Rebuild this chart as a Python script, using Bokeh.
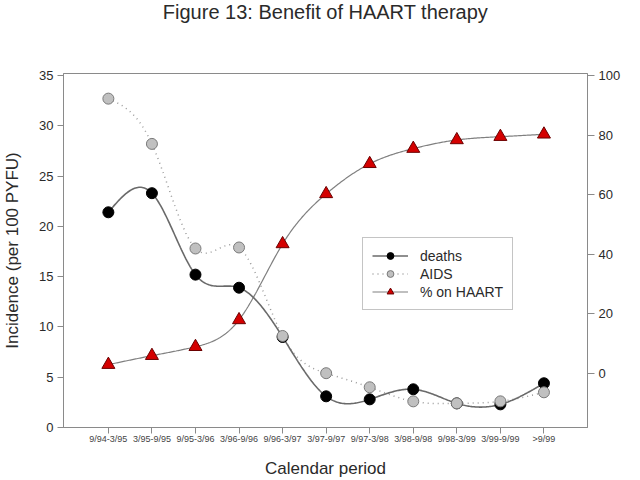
import numpy as np
from bokeh.plotting import figure
from bokeh.models import Range1d, LinearAxis, FixedTicker, Legend, LegendItem, Title
from bokeh.embed import file_html
from bokeh.resources import INLINE

periods = ["9/94-3/95", "3/95-9/95", "9/95-3/96", "3/96-9/96", "9/96-3/97",
           "3/97-9/97", "9/97-3/98", "3/98-9/98", "9/98-3/99", "3/99-9/99", ">9/99"]
deaths = [21.4, 23.3, 15.2, 13.9, 9.0, 3.1, 2.8, 3.8, 2.4, 2.3, 4.4]
aids = [32.7, 28.2, 17.8, 17.9, 9.1, 5.4, 4.0, 2.6, 2.4, 2.6, 3.5]
haart = [3.0, 6.0, 9.0, 18.0, 43.5, 60.3, 70.4, 75.5, 78.4, 79.5, 80.3]

left_ticks = [0, 5, 10, 15, 20, 25, 30, 35]
right_ticks = [0, 20, 40, 60, 80, 100]

FONT = "Liberation Sans"
TXT = "#2a2a2a"
AX = "#8a8a8a"


def natural_spline(xs, ys, n=400):
    xs = np.asarray(xs, float)
    ys = np.asarray(ys, float)
    k = len(xs)
    h = np.diff(xs)
    A = np.zeros((k, k))
    b = np.zeros(k)
    A[0, 0] = 1
    A[-1, -1] = 1
    for i in range(1, k - 1):
        A[i, i - 1] = h[i - 1]
        A[i, i] = 2 * (h[i - 1] + h[i])
        A[i, i + 1] = h[i]
        b[i] = 3 * ((ys[i + 1] - ys[i]) / h[i] - (ys[i] - ys[i - 1]) / h[i - 1])
    c = np.linalg.solve(A, b)
    xx = np.linspace(xs[0], xs[-1], n)
    yy = np.empty_like(xx)
    for j, xv in enumerate(xx):
        i = min(np.searchsorted(xs, xv, side="right") - 1, k - 2)
        d = xv - xs[i]
        bb = (ys[i + 1] - ys[i]) / h[i] - h[i] * (2 * c[i] + c[i + 1]) / 3
        dd = (c[i + 1] - c[i]) / (3 * h[i])
        yy[j] = ys[i] + bb * d + c[i] * d ** 2 + dd * d ** 3
    return xx, yy


x = list(range(len(periods)))

p = figure(width=640, height=480, output_backend="svg", toolbar_location=None,
           x_range=Range1d(-1.03, 11.0), y_range=Range1d(0, 35.2),
           min_border_left=63, min_border_right=53, min_border_top=73,
           min_border_bottom=53)
p.extra_y_ranges = {"haart": Range1d(-18.1, 100.7)}

p.title.text = ""
p.title.standoff = 0

# spacer (nearest the frame), then the real title above it
p.add_layout(Title(text=" ", text_font_size="20px", standoff=25), "above")
p.add_layout(Title(text="Figure 13: Benefit of HAART therapy", align="center",
                   vertical_align="top", standoff=0, text_font=FONT,
                   text_font_size="20px", text_font_style="normal",
                   text_color=TXT), "above")

p.xgrid.visible = False
p.ygrid.visible = False
p.outline_line_color = AX
p.outline_line_width = 1
p.background_fill_color = "white"
p.border_fill_color = "white"

# axes
xa = p.xaxis[0]
xa.ticker = FixedTicker(ticks=x)
xa.major_label_overrides = {i: s for i, s in enumerate(periods)}
xa.axis_label = "Calendar period"
xa.axis_label_text_font = FONT
xa.axis_label_text_font_size = "17px"
xa.axis_label_text_font_style = "normal"
xa.axis_label_text_color = TXT
xa.axis_label_standoff = 12
xa.major_label_text_font = FONT
xa.major_label_text_font_size = "9px"
xa.major_label_text_color = "#444444"
xa.major_label_standoff = 0
xa.minor_tick_line_color = None
xa.major_tick_out = 6
xa.major_tick_in = 0
xa.axis_line_color = AX
xa.major_tick_line_color = AX

ya = p.yaxis[0]
ya.ticker = FixedTicker(ticks=left_ticks)
ya.axis_label = "Incidence (per 100 PYFU)"
ya.axis_label_text_font = FONT
ya.axis_label_text_font_size = "17px"
ya.axis_label_text_font_style = "normal"
ya.axis_label_text_color = TXT
ya.axis_label_standoff = 14
ya.major_label_text_font = FONT
ya.major_label_text_font_size = "13px"
ya.major_label_text_color = TXT
ya.major_label_standoff = 4
ya.minor_tick_line_color = None
ya.major_tick_out = 6
ya.major_tick_in = 0
ya.axis_line_color = AX
ya.major_tick_line_color = AX

ra = LinearAxis(y_range_name="haart", ticker=FixedTicker(ticks=right_ticks))
ra.major_label_text_font = FONT
ra.major_label_text_font_size = "13px"
ra.major_label_text_color = TXT
ra.major_label_standoff = 4
ra.minor_tick_line_color = None
ra.major_tick_out = 7
ra.major_tick_in = 0
ra.axis_line_color = AX
ra.major_tick_line_color = AX
p.add_layout(ra, "right")

# curves
hx, hy = natural_spline(x, haart)
ax_, ay = natural_spline(x, aids)
dx, dy = natural_spline(x, deaths)

l_h = p.line(hx, hy, line_color="#808080", line_width=1.2, y_range_name="haart")
l_a = p.line(ax_, ay, line_color="#9a9a9a", line_width=1.5, line_dash="1 4")
l_d = p.line(dx, dy, line_color="#6a6a6a", line_width=1.6)

s_d = p.scatter(x, deaths, marker="circle", size=11, fill_color="black",
                line_color="black")
s_a = p.scatter(x, aids, marker="circle", size=11, fill_color="#c0c0c0",
                line_color="#7a7a7a")
s_h = p.scatter(x, haart, marker="triangle", size=13, fill_color="#d40000",
                line_color="#6a0000", y_range_name="haart")

legend = Legend(items=[
    LegendItem(label="deaths", renderers=[l_d, s_d]),
    LegendItem(label="AIDS", renderers=[l_a, s_a]),
    LegendItem(label="% on HAART", renderers=[l_h, s_h]),
], location=(299, 117))
legend.label_text_font = FONT
legend.label_text_font_size = "14px"
legend.label_text_color = TXT
legend.border_line_color = AX
legend.border_line_width = 1
legend.background_fill_alpha = 1
legend.glyph_width = 36
legend.glyph_height = 17
legend.label_height = 17
legend.label_standoff = 12
legend.padding = 9
legend.spacing = 1
legend.margin = 0
p.add_layout(legend, "center")

open("out.html", "w").write(file_html(p, INLINE))
